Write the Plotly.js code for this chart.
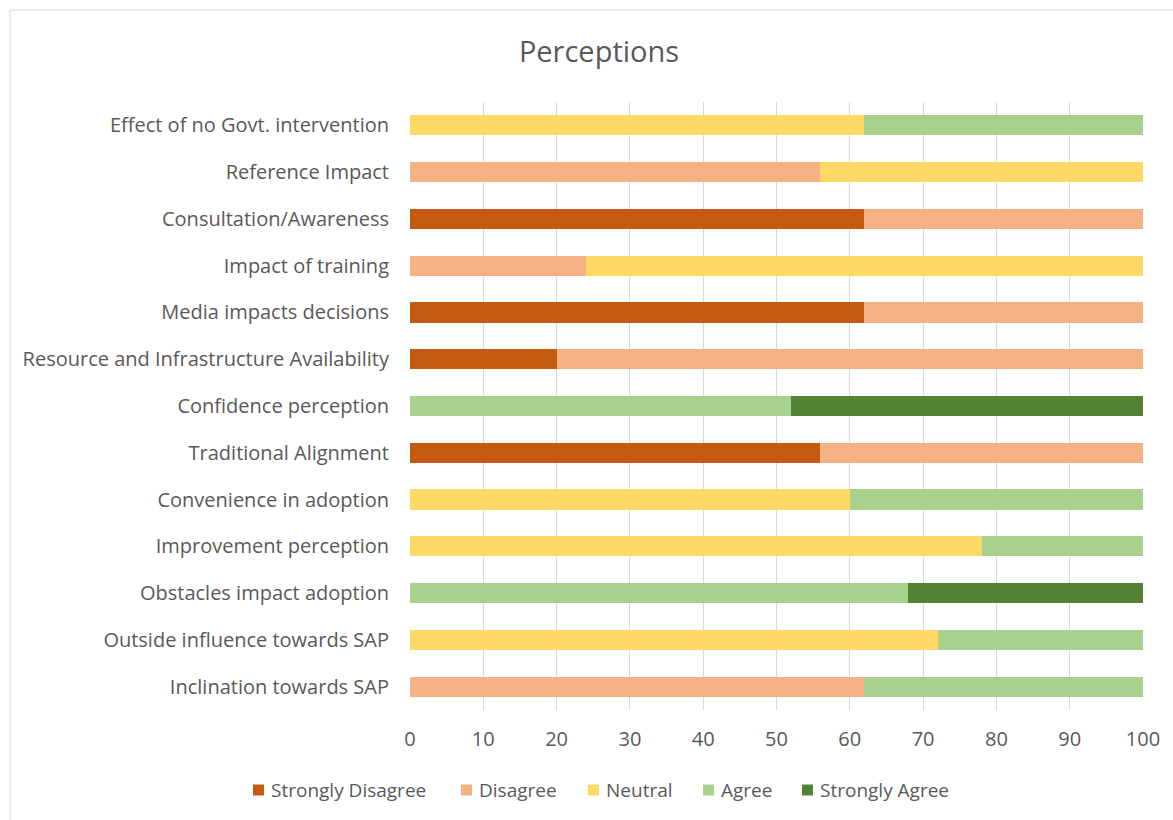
<!DOCTYPE html>
<html>
<head>
<meta charset="utf-8">
<script src="https://cdn.plot.ly/plotly-3.0.1.min.js"></script>
<style>html,body{margin:0;padding:0;background:#fff;}#chart{width:1173px;height:820px;}</style>
</head>
<body>
<div id="chart"></div>
<script>
const categories = [
  "Inclination towards SAP",
  "Outside influence towards SAP",
  "Obstacles impact adoption",
  "Improvement perception",
  "Convenience in adoption",
  "Traditional Alignment",
  "Confidence perception",
  "Resource and Infrastructure Availability",
  "Media impacts decisions",
  "Impact of training",
  "Consultation/Awareness",
  "Reference Impact",
  "Effect of no Govt. intervention"
];
const stronglyDisagree = [0, 0, 0, 0, 0, 56, 0, 20, 62, 0, 62, 0, 0];
const disagree         = [62, 0, 0, 0, 0, 44, 0, 80, 38, 24, 38, 56, 0];
const neutral          = [0, 72, 0, 78, 60, 0, 0, 0, 0, 76, 0, 44, 62];
const agree            = [38, 28, 68, 22, 40, 0, 52, 0, 0, 0, 0, 0, 38];
const stronglyAgree    = [0, 0, 32, 0, 0, 0, 48, 0, 0, 0, 0, 0, 0];
const seriesNames = ["Strongly Disagree", "Disagree", "Neutral", "Agree", "Strongly Agree"];
const seriesColors = ["#C55A11", "#F4B183", "#FFD966", "#A9D18E", "#548235"];
const seriesValues = [stronglyDisagree, disagree, neutral, agree, stronglyAgree];
const xTicks = [0, 10, 20, 30, 40, 50, 60, 70, 80, 90, 100];

const traces = seriesValues.map((vals, i) => ({
  type: 'bar',
  orientation: 'h',
  name: seriesNames[i],
  y: categories,
  x: vals,
  marker: {color: seriesColors[i], line: {width: 0}},
  hoverinfo: 'x+y+name',
  showlegend: false
}));

const W = 1173, H = 820, L = 410, R = 30, T = 102, B = 110;
const pw = W - L - R, ph = H - T - B;
const px = v => (v - L) / pw;
const py = v => (H - B - v) / ph;

// custom legend (layout only: square + label per series)
const legendX = [253, 461, 588, 703, 802];
const legendY = 790;
const shapes = [{type: 'rect', xref: 'paper', yref: 'paper', x0: px(10), x1: px(1190), y0: py(840), y1: py(10),
            line: {color: '#d9d9d9', width: 1}, fillcolor: 'rgba(0,0,0,0)', layer: 'below'}];
const annotations = [];
seriesNames.forEach((n, i) => {
  shapes.push({type: 'rect', xref: 'paper', yref: 'paper', x0: px(legendX[i]), x1: px(legendX[i] + 11),
    y0: py(legendY + 5.5), y1: py(legendY - 5.5), line: {width: 0}, fillcolor: seriesColors[i]});
  annotations.push({xref: 'paper', yref: 'paper', x: px(legendX[i] + 16), y: py(legendY), xanchor: 'left', yanchor: 'middle',
    text: n, showarrow: false, font: {size: 19, color: '#595959'}});
});

const layout = {
  width: W, height: H,
  margin: {l: L, r: R, t: T, b: B},
  barmode: 'stack',
  bargap: 0.57,
  paper_bgcolor: '#ffffff',
  plot_bgcolor: '#ffffff',
  font: {family: '"Open Sans", sans-serif', color: '#595959', size: 20},
  title: {text: 'Perceptions', x: 599 / W, xref: 'container', xanchor: 'center', y: 1 - 52 / H, yref: 'container', yanchor: 'middle',
          font: {size: 29, color: '#595959'}},
  xaxis: {range: [0, 100], tickvals: xTicks, ticktext: xTicks.map(String), showgrid: true, gridcolor: '#d9d9d9', gridwidth: 1,
          zeroline: false, showline: false, ticks: '', ticklabelstandoff: 15, tickfont: {size: 20, color: '#595959'}, fixedrange: true},
  yaxis: {categoryorder: 'array', categoryarray: categories, showgrid: false, zeroline: false, showline: false,
          ticks: '', ticklabelstandoff: 20, tickfont: {size: 20, color: '#595959'}, fixedrange: true},
  shapes: shapes,
  annotations: annotations,
  showlegend: false
};

Plotly.newPlot('chart', traces, layout, {displayModeBar: false, staticPlot: true});
</script>
</body>
</html>
